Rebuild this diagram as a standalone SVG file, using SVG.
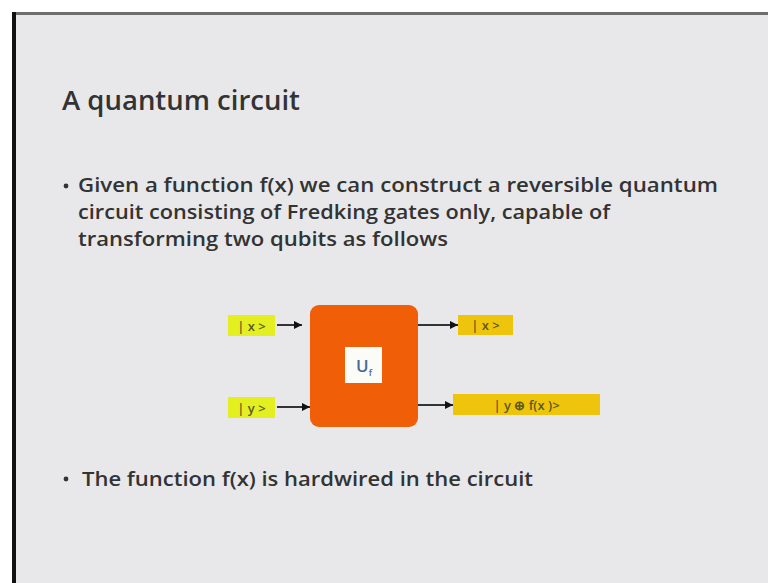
<svg xmlns="http://www.w3.org/2000/svg" width="768" height="583" viewBox="0 0 768 583">
<style>
.body{font-family:"Open Sans","Liberation Sans",sans-serif;fill:#333333;font-weight:600;}
.lbl{font-family:"Open Sans","Liberation Sans",sans-serif;font-size:13px;font-weight:600;fill:#5a5a20;}
.wire{stroke:#333;stroke-width:2;fill:none;}
</style>
<defs>
<marker id="ah" viewBox="0 0 10 10" refX="10" refY="5" markerWidth="4" markerHeight="4" orient="auto" markerUnits="strokeWidth">
<path d="M0,0 L10,5 L0,10 z" fill="#111"/>
</marker>
</defs>
<rect x="0" y="0" width="768" height="583" fill="#ffffff"/>
<rect x="12" y="12" width="756" height="571" fill="#e8e8ea"/>
<rect x="12" y="12" width="756" height="3" fill="#6e6e6e"/>
<rect x="12" y="12" width="4" height="571" fill="#111"/>
<text class="body" x="62" y="110" font-size="27" textLength="238" lengthAdjust="spacingAndGlyphs">A quantum circuit</text>
<g id="bullet1">
<circle cx="66" cy="186" r="2.4" fill="#333"/>
<text class="body" x="78" y="192" font-size="19" textLength="640" lengthAdjust="spacingAndGlyphs">Given a function f(x) we can construct a  reversible quantum</text>
<text class="body" x="78" y="219" font-size="19" textLength="532" lengthAdjust="spacingAndGlyphs">circuit consisting of Fredking gates only, capable of</text>
<text class="body" x="78" y="246" font-size="19" textLength="370" lengthAdjust="spacingAndGlyphs">transforming two qubits as follows</text>
</g>
<g id="bullet2">
<circle cx="66" cy="479" r="2.4" fill="#333"/>
<text class="body" x="82" y="486" font-size="19" textLength="451" lengthAdjust="spacingAndGlyphs">The function f(x) is hardwired in the circuit</text>
</g>
<g id="connectors">
<line class="wire" x1="277" y1="325" x2="302" y2="325" marker-end="url(#ah)"/>
<line class="wire" x1="277" y1="407" x2="310" y2="407" marker-end="url(#ah)"/>
<line class="wire" x1="418" y1="325" x2="458" y2="325" marker-end="url(#ah)"/>
<line class="wire" x1="418" y1="405" x2="453" y2="405" marker-end="url(#ah)"/>
</g>
<g id="in_x">
<rect x="228" y="315" width="47" height="21" fill="#e4ef22"/>
<text class="lbl" x="251.5" y="330.5" text-anchor="middle">| x &gt;</text>
</g>
<g id="in_y">
<rect x="228" y="397" width="47" height="21" fill="#e4ef22"/>
<text class="lbl" x="251.5" y="412.5" text-anchor="middle">| y &gt;</text>
</g>
<g id="uf">
<rect x="310" y="305" width="108" height="122" rx="9" fill="#f05e08"/>
<rect x="345" y="347" width="37" height="36" fill="#fbfbf8"/>
<text x="356" y="372" font-family="Open Sans,Liberation Sans,sans-serif" font-size="17" font-weight="600" fill="#4a6a90">U<tspan font-size="9" dy="4">f</tspan></text>
</g>
<g id="out_x">
<rect x="458" y="315" width="55" height="20" fill="#efc40c"/>
<text class="lbl" x="485.5" y="330" text-anchor="middle">| x &gt;</text>
</g>
<g id="out_y">
<rect x="453" y="394" width="147" height="21" fill="#efc40c"/>
<text class="lbl" x="526.5" y="409.5" text-anchor="middle">| y ⊕ f(x )&gt;</text>
</g>
</svg>
